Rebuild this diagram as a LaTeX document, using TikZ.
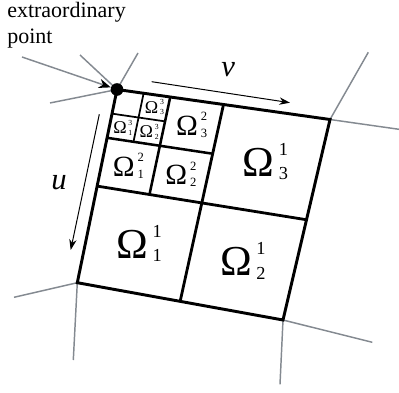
\documentclass[tikz,border=0pt]{standalone}
\usepackage{fontspec}
\setmainfont{Liberation Serif}
\usetikzlibrary{calc,arrows.meta}
\definecolor{edgegray}{RGB}{132,138,145}
\newcommand\Om[2]{Ω\kern0.1em\rlap{\raisebox{0.49em}{\scalebox{0.43}{#1}}}\raisebox{-0.08em}{\scalebox{0.43}{#2}}}
\newcommand\mkpt[3]{\coordinate (#1) at ($($(A)!#2!(B)$)!#3!($(D)!#2!(C)$)$);}
\begin{document}
\begin{tikzpicture}[x=0.75pt,y=-0.75pt,
  quad/.style={line width=2.2pt, line join=miter},
  midline/.style={line width=2.1pt},
  lvltwo/.style={line width=1.9pt},
  lvlthree/.style={line width=1.3pt},
  edge/.style={draw=edgegray, line width=1.1pt},
  dirarrow/.style={line width=0.75pt, -{Stealth[length=8pt,width=5.5pt]}},
  labone/.style={inner sep=0, font=\fontsize{32}{32}\selectfont},
  labtwo/.style={inner sep=0, font=\fontsize{22}{22}\selectfont},
  labthree/.style={inner sep=0, font=\fontsize{13.5}{13.5}\selectfont},
  axislab/.style={inner sep=0, font=\fontsize{23}{23}\selectfont\itshape}]
\useasboundingbox (0,0) rectangle (399,392);
% corners
\coordinate (A) at (117,89.5);
\coordinate (B) at (330,119.5);
\coordinate (C) at (283,320);
\coordinate (D) at (77.3,282.7);
% free ends of neighbouring edges
\coordinate (a1) at (80,55);
\coordinate (a2) at (138,53);
\coordinate (a3) at (50,103);
\coordinate (b1) at (368.3,52.3);
\coordinate (b2) at (399,129.3);
\coordinate (c1) at (372.3,342.3);
\coordinate (c2) at (280,384.3);
\coordinate (d1) at (14,297.3);
\coordinate (d2) at (73.3,360);
\coordinate (pstart) at (22,57);
% grid points
\mkpt{T50}{0.5}{0}
\mkpt{B50}{0.5}{1}
\mkpt{L50}{0}{0.5}
\mkpt{R50}{1}{0.5}
\mkpt{T25}{0.25}{0}
\mkpt{M25}{0.25}{0.5}
\mkpt{L25}{0}{0.25}
\mkpt{N25}{0.5}{0.25}
\mkpt{T125}{0.125}{0}
\mkpt{M125}{0.125}{0.25}
\mkpt{L125}{0}{0.125}
\mkpt{N125}{0.25}{0.125}
% cell centres
\mkpt{c11}{0.25}{0.75}
\mkpt{c12}{0.75}{0.75}
\mkpt{c13}{0.75}{0.25}
\mkpt{c21}{0.125}{0.375}
\mkpt{c22}{0.375}{0.375}
\mkpt{c23}{0.375}{0.125}
\mkpt{c31}{0.0625}{0.1875}
\mkpt{c32}{0.1875}{0.1875}
\mkpt{c33}{0.1875}{0.0625}
% gray neighbouring edges
\draw[edge] (A) -- (a1);
\draw[edge] (A) -- (a2);
\draw[edge] (A) -- (a3);
\draw[edge] (B) -- (b1);
\draw[edge] (B) -- (b2);
\draw[edge] (C) -- (c1);
\draw[edge] (C) -- (c2);
\draw[edge] (D) -- (d1);
\draw[edge] (D) -- (d2);
% patch
\draw[quad] (A) -- (B) -- (C) -- (D) -- cycle;
\draw[midline] (T50) -- (B50);
\draw[midline] (L50) -- (R50);
\draw[lvltwo] (T25) -- (M25);
\draw[lvltwo] (L25) -- (N25);
\draw[lvlthree] (T125) -- (M125);
\draw[lvlthree] (L125) -- (N125);
% extraordinary point
\node[circle, fill=black, inner sep=0, minimum size=9.5pt] (ep) at (A) {};
\draw[edge, -{Stealth[length=9pt,width=7pt,color=black]}] (pstart) -- (ep);
\node[anchor=north west, inner sep=0, align=left, font=\fontsize{16.5}{20}\selectfont] (eplab) at (7,1.8) {extraordinary\\point};
% direction arrows
\coordinate (vs) at (151.7,81.7);
\coordinate (ve) at (290,102.7);
\coordinate (us) at (99.3,114.3);
\coordinate (ue) at (70.7,250);
\draw[dirarrow] (vs) -- (ve);
\draw[dirarrow] (us) -- (ue);
\node[axislab] (vlab) at (228.3,70) {v};
\node[axislab] (ulab) at (59,182.5) {u};
% labels
\node[labone] (o11) at (c11) {\Om{1}{1}};
\node[labone] (o12) at (c12) {\Om{1}{2}};
\node[labone] (o13) at (c13) {\Om{1}{3}};
\node[labtwo] (o21) at (c21) {\Om{2}{1}};
\node[labtwo] (o22) at (c22) {\Om{2}{2}};
\node[labtwo] (o23) at (c23) {\Om{2}{3}};
\node[labthree] (o31) at (c31) {\Om{3}{1}};
\node[labthree] (o32) at (c32) {\Om{3}{2}};
\node[labthree] (o33) at (c33) {\Om{3}{3}};
\end{tikzpicture}
\end{document}
